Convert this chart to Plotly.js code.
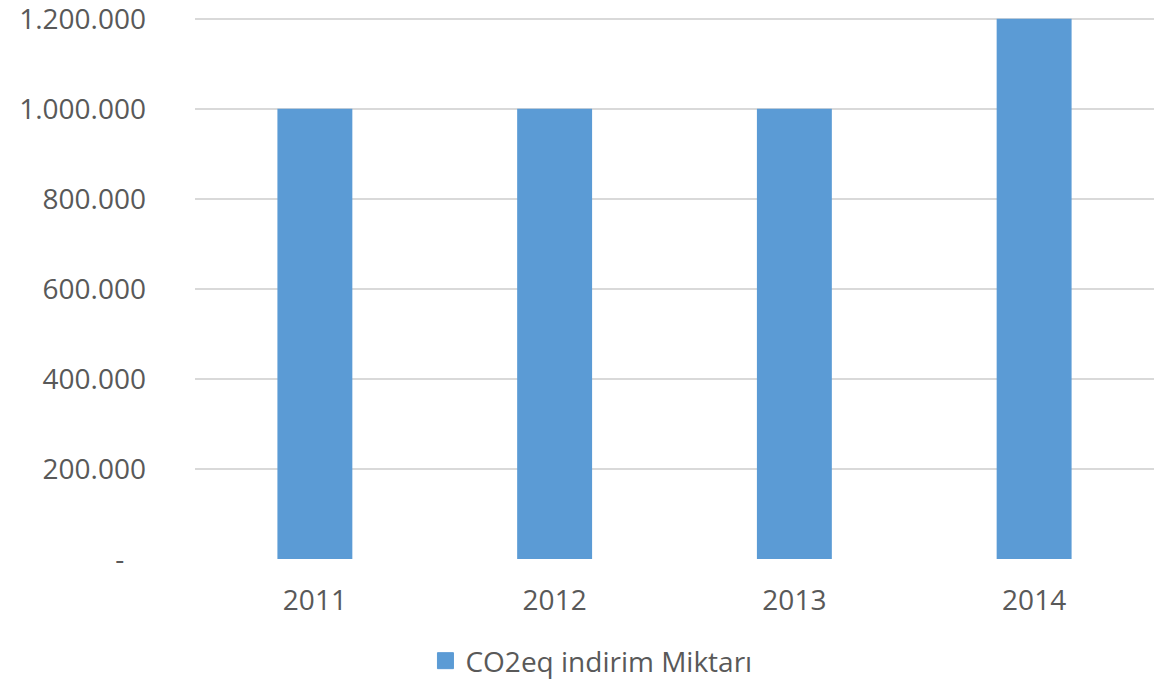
<!DOCTYPE html>
<html><head><meta charset="utf-8">
<script src="https://cdn.plot.ly/plotly-3.0.1.min.js"></script>
<style>html,body{margin:0;padding:0;background:#fff}#chart{width:1162px;height:680px}</style>
</head><body><div id="chart"></div>
<script>
const years = ['2011', '2012', '2013', '2014'];
const reduction = [1000000, 1000000, 1000000, 1200000];
const seriesName = 'CO2eq indirim Miktarı';
const yTickVals = [0, 200000, 400000, 600000, 800000, 1000000, 1200000];
const yTickText = ['-\u00a0\u00a0\u00a0', '200.000', '400.000', '600.000', '800.000', '1.000.000', '1.200.000'];

const font = {family: '"Open Sans", sans-serif', size: 28, color: '#595959'};
Plotly.newPlot('chart', [{
  type: 'bar', x: years, y: reduction, name: seriesName,
  marker: {color: '#5B9BD5'}, showlegend: false
}, {
  type: 'scatter', mode: 'markers', x: [years[0]], y: [null], name: seriesName,
  marker: {symbol: 'square', size: 16, color: '#5B9BD5', line: {width: 1, color: '#5B9BD5'}},
  showlegend: true, hoverinfo: 'skip'
}], {
  width: 1162, height: 680,
  margin: {l: 195, r: 8, t: 17, b: 121},
  paper_bgcolor: '#fff', plot_bgcolor: '#fff',
  font: font,
  bargap: 0.6875,
  xaxis: {type: 'category', showgrid: false, zeroline: false, showline: false,
    ticks: '', ticklabelstandoff: 22, tickfont: font},
  yaxis: {range: [0, 1204000], tickvals: yTickVals, ticktext: yTickText,
    showgrid: true, gridcolor: '#D9D9D9', gridwidth: 2, zeroline: false, showline: false,
    ticks: '', ticklabelstandoff: 48, ticklabeloverflow: 'allow', tickfont: font},
  showlegend: true,
  legend: {orientation: 'h', xref: 'container', yref: 'container', x: 0.509, xanchor: 'center',
    y: 0.028, yanchor: 'middle', font: font, itemwidth: 30, itemsizing: 'trace'}
}, {displayModeBar: false});
</script></body></html>
